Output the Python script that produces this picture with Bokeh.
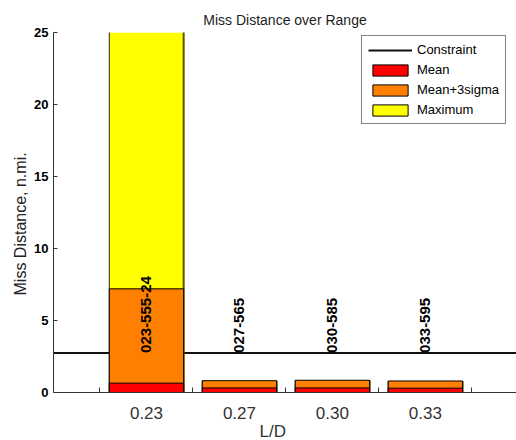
import numpy as np
from bokeh.plotting import figure
from bokeh.models import Range1d, FixedTicker, Legend, LegendItem, Title
from bokeh.core.properties import value
from bokeh.embed import file_html
from bokeh.resources import INLINE

# ---- data ----
categories = ["0.23", "0.27", "0.30", "0.33"]
mean_vals = [0.65, 0.32, 0.32, 0.30]
sigma3_vals = [7.2, 0.82, 0.85, 0.80]
max_vals = [30.0, 0.82, 0.85, 0.80]
run_labels = ["023-555-24", "027-565", "030-585", "033-595"]
constraint = 2.75
y_ticks = [0, 5, 10, 15, 20, 25]

FONT = "Liberation Sans"
BAR_W = 0.8
x = np.arange(1, len(categories) + 1)
xr = Range1d(0, 4.98)
yr = Range1d(0, 25)

p = figure(width=516, height=440, output_backend="svg", toolbar_location=None,
           x_range=xr, y_range=yr,
           min_border_left=53, min_border_right=0, min_border_top=32,
           min_border_bottom=48, title="Miss Distance over Range")
p.background_fill_color = "white"
p.border_fill_color = "white"
p.outline_line_color = None
p.xgrid.grid_line_color = None
p.ygrid.grid_line_color = None

p.title.align = "center"
p.title.text_font = FONT
p.title.text_font_size = "14px"
p.title.text_font_style = "normal"
p.title.text_color = "#222222"
p.title.standoff = 9

# constraint line across the whole x range (drawn first, under the bars)
r_con = p.line(x=[xr.start, xr.end], y=[constraint, constraint],
               line_color="#111111", line_width=2)

# maximum bars: fill without outline, outline via side segments (top is clipped)
p.vbar(x=x, top=max_vals, width=BAR_W, fill_color="#FFFF00", line_color=None)
mx = np.array(max_vals)
p.segment(x0=x - BAR_W / 2, y0=np.zeros_like(mx), x1=x - BAR_W / 2, y1=mx,
          line_color="#222222", line_width=1)
p.segment(x0=x + BAR_W / 2, y0=np.zeros_like(mx), x1=x + BAR_W / 2, y1=mx,
          line_color="#555500", line_width=2)
r_s3 = p.vbar(x=x, top=sigma3_vals, width=BAR_W, fill_color="#FF8000", line_color="black", line_width=1)
r_mean = p.vbar(x=x, top=mean_vals, width=BAR_W, fill_color="#FF0000", line_color="black", line_width=1)
# legend proxy for "Maximum"
r_max_leg = p.vbar(x=[np.nan], top=[np.nan], width=BAR_W, fill_color="#FFFF00", line_color="black", line_width=1)

p.text(x=x, y=[constraint] * len(x), text=run_labels, angle=np.pi / 2,
       text_align="left", text_baseline="middle", text_font=value(FONT),
       text_font_style="bold", text_font_size="15px", text_color="black")

# x axis
p.xaxis.ticker = FixedTicker(ticks=list(x), minor_ticks=list(x - 0.5) + [x[-1] + 0.5])
p.xaxis.major_label_overrides = {int(v): c for v, c in zip(x, categories)}
p.xaxis.major_tick_line_color = None
p.xaxis.minor_tick_in = 5
p.xaxis.minor_tick_out = 0
p.xaxis.minor_tick_line_color = "#333333"
p.xaxis.major_label_text_font = FONT
p.xaxis.major_label_text_font_size = "17px"
p.xaxis.major_label_text_color = "#333333"
p.xaxis.major_label_standoff = 8
p.xaxis.axis_line_color = "#333333"

# y axis
p.yaxis.ticker = FixedTicker(ticks=y_ticks)
p.yaxis.minor_tick_line_color = None
p.yaxis.major_tick_in = 4
p.yaxis.major_tick_out = 0
p.yaxis.major_tick_line_color = "#333333"
p.yaxis.major_label_text_font = FONT
p.yaxis.major_label_text_font_size = "13px"
p.yaxis.major_label_text_font_style = "bold"
p.yaxis.major_label_text_color = "black"
p.yaxis.major_label_standoff = 5
p.yaxis.axis_line_color = "#333333"

# axis titles
p.add_layout(Title(text="L/D", align="left", offset=206, standoff=-4,
                   text_font=FONT, text_font_size="17px", text_font_style="normal",
                   text_color="#333333"), "below")
p.add_layout(Title(text="Miss Distance, n.mi.", align="left", offset=97, standoff=6,
                   text_font=FONT, text_font_size="16px", text_font_style="normal",
                   text_color="#222222"), "left")

legend = Legend(items=[
    LegendItem(label="Constraint", renderers=[r_con]),
    LegendItem(label="Mean", renderers=[r_mean]),
    LegendItem(label="Mean+3sigma", renderers=[r_s3]),
    LegendItem(label="Maximum", renderers=[r_max_leg]),
], location=(308, 268))
legend.margin = 0
legend.padding = 6
legend.spacing = 5
legend.glyph_height = 14
legend.glyph_width = 44
legend.label_height = 14
legend.label_standoff = 5
legend.label_text_font = FONT
legend.label_text_font_size = "13px"
legend.label_text_color = "black"
legend.border_line_color = "black"
legend.border_line_width = 1
legend.background_fill_color = "white"
legend.background_fill_alpha = 1.0
p.add_layout(legend)

open("out.html", "w").write(file_html(p, INLINE))
